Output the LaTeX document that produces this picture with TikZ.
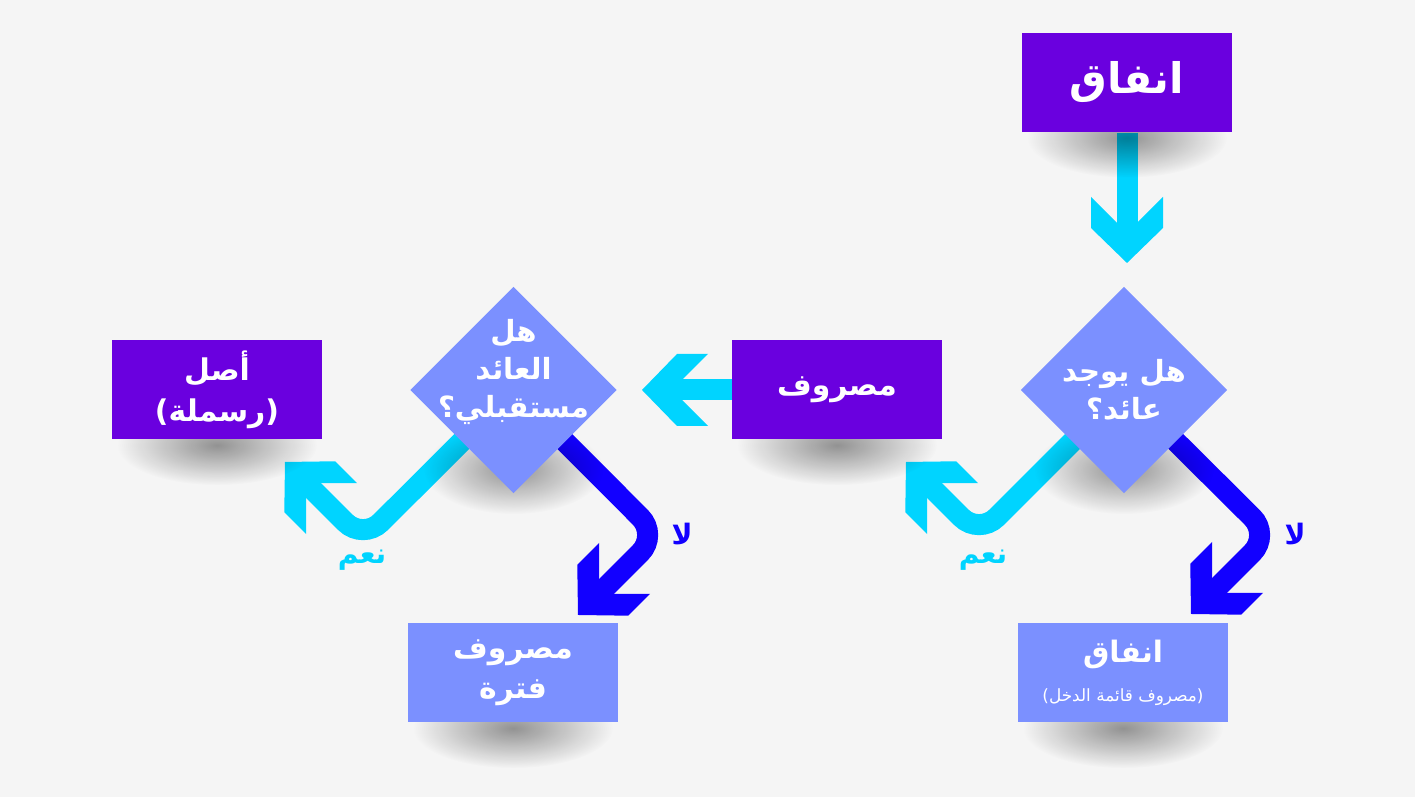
\documentclass[tikz,border=0pt]{standalone}
\usepackage{fontspec}
\usepackage{tikz}
\usetikzlibrary{shapes.geometric,backgrounds,fadings}
\TeXXeTstate=1
\newfontfamily\arabicfont[Script=Arabic]{DejaVu Sans}
\newcommand{\ar}[1]{\beginR #1\endR}
\definecolor{BackGray}{RGB}{245,245,245}
\definecolor{PurpleBox}{RGB}{106,0,223}
\definecolor{LavenderBox}{RGB}{123,144,255}
\definecolor{CyanArrow}{RGB}{0,212,255}
\definecolor{BlueArrow}{RGB}{18,0,255}
\tikzfading[name=ShadowFade,inner color=transparent!0,outer color=transparent!100]

\begin{document}
\begin{tikzpicture}[x=0.1mm,y=-0.1mm,
  box/.style={rectangle,minimum width=21mm,minimum height=9.9mm,inner sep=0pt,
    align=center,text=white,font=\arabicfont\bfseries\fontsize{8.5}{11.5}\selectfont},
  darkbox/.style={box,fill=PurpleBox},
  lightbox/.style={box,fill=LavenderBox},
  question/.style={diamond,aspect=1,minimum width=20.7mm,minimum height=20.7mm,
    inner sep=0pt,fill=LavenderBox},
  qtext/.style={align=center,text=white,font=\arabicfont\bfseries\fontsize{8.3}{10.7}\selectfont},
  answer/.style={font=\arabicfont\bfseries\fontsize{8}{9}\selectfont},
  flow/.style={line width=2.1mm,rounded corners=2.5mm},
  drop/.style={fill=black,fill opacity=.4,path fading=ShadowFade},
  chev/.pic={
    \fill (-36,-66) -- (-36,-35) -- (0,0) -- (36,-35) -- (36,-66) -- (0,-30) -- cycle;
    \coordinate (-in) at (0,-15);
  }]
  \useasboundingbox (0,0) rectangle (1415,797);

  \node[darkbox,font=\arabicfont\bfseries\fontsize{12}{14}\selectfont] (start) at (1127,82.5) {\ar{انفاق}};
  \node[question] (q1) at (1124,390) {};
  \node[qtext] (q1t) at (q1.center) {\ar{هل يوجد}\\\ar{عائد؟}};
  \node[darkbox] (spend) at (837,390) {\ar{مصروف}};
  \node[question] (q2) at (513.5,390) {};
  \node[qtext] (q2t) at ([yshift=1.8mm]q2.center) {\ar{هل}\\\ar{العائد}\\\ar{مستقبلي؟}};
  \node[darkbox] (asset) at (217,390) {\ar{أصل}\\\ar{(رسملة)}};
  \node[lightbox] (period) at (513,673) {\ar{مصروف}\\\ar{فترة}};
  \node[lightbox,font=\arabicfont\bfseries\fontsize{8.4}{11}\selectfont] (income) at (1123,673)
    {\ar{انفاق}\\{\mdseries\fontsize{4.8}{7}\selectfont\ar{(مصروف قائمة الدخل)}}};

  \node[answer,CyanArrow] (yes1) at (983,560) {\ar{نعم}};
  \node[answer,BlueArrow] (no1) at (1295,534) {\ar{لا}};
  \node[answer,CyanArrow] (yes2) at (362,560) {\ar{نعم}};
  \node[answer,BlueArrow] (no2) at (682,534) {\ar{لا}};

  \begin{scope}[on background layer]
    \fill[BackGray] (0,0) rectangle (1415,797);
    \pic[CyanArrow] (h0) at (1127,263) {chev};
    \draw[flow,CyanArrow] (start.south) -- (h0-in);
    \pic[CyanArrow,rotate=-90] (h1) at (642,390) {chev};
    \draw[flow,CyanArrow] (spend.center) -- (h1-in);
    \coordinate (b1) at (979,535);
    \pic[CyanArrow,rotate=225] (h2) at (906,462) {chev};
    \draw[flow,CyanArrow] (q1.center) -- (b1) -- (h2-in);
    \coordinate (b2) at (1270,535);
    \pic[BlueArrow,rotate=-45] (h3) at (1191,614) {chev};
    \draw[flow,BlueArrow] (q1.center) -- (b2) -- (h3-in);
    \coordinate (b3) at (363,540);
    \pic[CyanArrow,rotate=225] (h4) at (285,462) {chev};
    \draw[flow,CyanArrow] (q2.center) -- (b3) -- (h4-in);
    \coordinate (b4) at (658,535);
    \pic[BlueArrow,rotate=-45] (h5) at (578,615) {chev};
    \draw[flow,BlueArrow] (q2.center) -- (b4) -- (h5-in);
    \foreach \n in {start,spend,asset,period,income}
      \fill[drop] (\n.south) ++(0,5) ellipse (100 and 40);
    \foreach \n in {q1,q2}
      \fill[drop] (\n.south) ++(0,-25) ellipse (90 and 45);
  \end{scope}
\end{tikzpicture}
\end{document}
